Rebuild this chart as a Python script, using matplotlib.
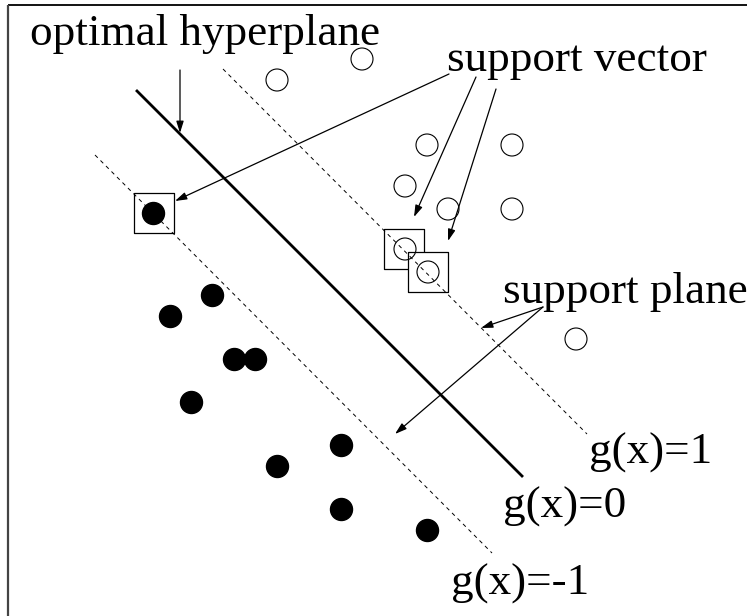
import matplotlib.pyplot as plt

# pixel-space coordinates (y grows downward)
neg_x = [153, 212, 170, 234, 255, 191, 341, 277, 341, 427]
neg_y = [213, 295, 316, 359, 359, 402, 445, 466, 509, 530]
pos_x = [277, 362, 427, 512, 405, 448, 512, 405, 428, 576]
pos_y = [80, 59, 145, 145, 186, 209, 209, 249, 272, 339]
sv_x = [154, 404, 428]
sv_y = [213, 249, 272]

hyper_x = [137, 522]
hyper_y = [91, 476]
plus_x = [223, 587]
plus_y = [69, 434]
minus_x = [95, 492]
minus_y = [155, 553]

labels = ["optimal hyperplane", "support vector", "support plane",
          "g(x)=1", "g(x)=0", "g(x)=-1"]
label_x = [30, 447, 503, 589, 503, 451]
label_y = [45, 71, 303, 464, 518, 595]


def main():
    fig = plt.figure(figsize=(7.47, 6.16), dpi=100)
    ax = fig.add_axes([0, 0, 1, 1])
    ax.set_xlim(0, 747)
    ax.set_ylim(616, 0)
    ax.axis('off')

    # frame (only top and left edges show)
    ax.plot([8, 747], [5, 5], color='black', lw=1.3, solid_capstyle='butt')
    ax.plot([8, 8], [5, 616], color='#444444', lw=1.6, solid_capstyle='butt')

    # support vector boxes
    for x, y in zip(sv_x, sv_y):
        ax.scatter([x], [y], marker='s', s=(40 * 0.72) ** 2, facecolor='white',
                   edgecolor='black', linewidths=0.9, zorder=2)

    # planes
    ax.plot(hyper_x, hyper_y, color='black', lw=2.0, zorder=3)
    ax.plot(plus_x, plus_y, color='black', lw=0.7, dashes=(4, 4), zorder=3)
    ax.plot(minus_x, minus_y, color='black', lw=0.7, dashes=(4, 4), zorder=3)

    # samples
    ax.scatter(neg_x, neg_y, s=(22 * 0.72) ** 2, color='black', zorder=4)
    ax.scatter(pos_x, pos_y, s=(22 * 0.72) ** 2, facecolor='none',
               edgecolor='black', linewidths=0.8, zorder=4)

    arrow = dict(arrowstyle='-|>,head_length=0.7,head_width=0.22',
                 color='black', lw=0.9, shrinkA=0, shrinkB=0)
    ax.annotate('', xy=(180, 133), xytext=(180, 70), arrowprops=arrow)
    ax.annotate('', xy=(175, 201), xytext=(449, 74), arrowprops=arrow)
    ax.annotate('', xy=(414, 217), xytext=(476, 77), arrowprops=arrow)
    ax.annotate('', xy=(448, 241), xytext=(496, 89), arrowprops=arrow)
    ax.annotate('', xy=(481, 328), xytext=(543, 307), arrowprops=arrow)
    ax.annotate('', xy=(395, 434), xytext=(543, 307), arrowprops=arrow)

    for t, x, y in zip(labels, label_x, label_y):
        ax.text(x, y, t, fontsize=32.5, family='Liberation Serif',
                ha='left', va='baseline', zorder=5)

    fig.savefig('out.png', dpi=100)


if __name__ == "__main__":
    main()
